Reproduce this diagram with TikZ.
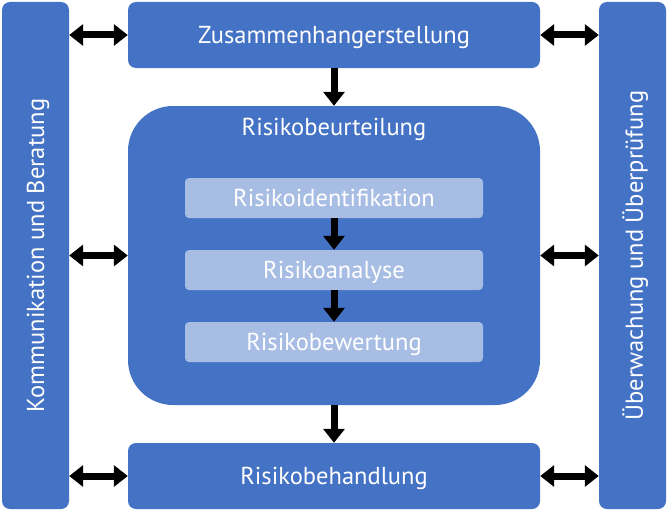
\documentclass[tikz,border=0pt]{standalone}
\usepackage{fontspec}
\setmainfont{PT Sans}
\usetikzlibrary{arrows.meta}
\definecolor{mainblue}{HTML}{4472C4}
\definecolor{lightblue}{HTML}{A8BDE4}
\begin{document}
\begin{tikzpicture}[x=1pt,y=-1pt,
  lbl/.style={text=white,font=\fontsize{24.5}{28}\selectfont,text depth=0pt},
  box/.style={lbl,fill=mainblue,draw=none,rounded corners=8pt,inner sep=0pt},
  inbox/.style={lbl,fill=lightblue,draw=none,rounded corners=4pt,inner sep=0pt,minimum width=298pt,minimum height=40pt},
  blk/.style={line width=7pt,-{Triangle[width=21pt,length=14pt]}},
  dblk/.style={line width=7pt,{Triangle[width=21pt,length=14pt]}-{Triangle[width=21pt,length=14pt]}}]
\useasboundingbox (0,0) rectangle (668,511);
\node[box,minimum width=67pt,minimum height=507pt] (L) at (35.5,255.5) {};
\node[lbl,rotate=90] (Lt) at (35.5,255.5) {Kommunikation und Beratung};
\node[box,minimum width=67pt,minimum height=507pt] (R) at (632.5,255.5) {};
\node[lbl,rotate=90] (Rt) at (632.5,255.5) {Überwachung und Überprüfung};
\node[box,minimum width=412pt,minimum height=66pt] (T) at (334,35) {Zusammenhangerstellung};
\node[box,rounded corners=45pt,minimum width=412pt,minimum height=299pt] (B) at (334,255.5) {};
\node[lbl] (Bt) at (334,127) {Risikobeurteilung};
\node[inbox] (I1) at (334,198) {Risikoidentifikation};
\node[inbox] (I2) at (334,270) {Risikoanalyse};
\node[inbox] (I3) at (334,342) {Risikobewertung};
\node[box,minimum width=412pt,minimum height=66pt] (H) at (334,476) {Risikobehandlung};
\draw[blk] (T.south) -- (B.north);
\draw[blk] (I1.south) -- (I2.north);
\draw[blk] (I2.south) -- (I3.north);
\draw[blk] (B.south) -- (H.north);
\draw[dblk] (L.east |- T.west) -- (T.west);
\draw[dblk] (L.east |- B.west) -- (B.west);
\draw[dblk] (L.east |- H.west) -- (H.west);
\draw[dblk] (T.east) -- (R.west |- T.east);
\draw[dblk] (B.east) -- (R.west |- B.east);
\draw[dblk] (H.east) -- (R.west |- H.east);
\end{tikzpicture}
\end{document}
